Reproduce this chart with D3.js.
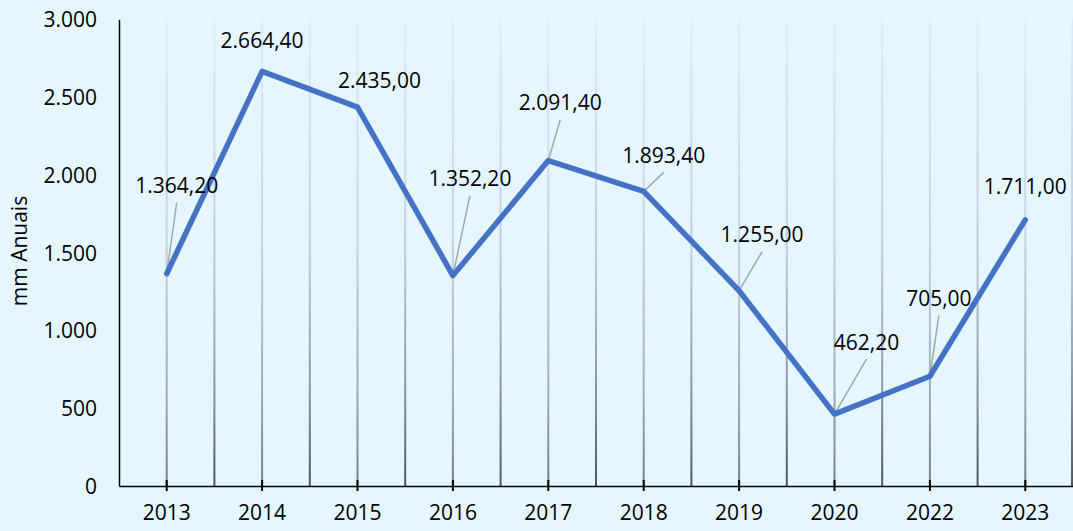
<!DOCTYPE html>
<html>
<head>
<meta charset="utf-8">
<script src="https://cdn.jsdelivr.net/npm/d3@7"></script>
<style>
  html, body { margin: 0; padding: 0; background: #e6f6ff; }
  svg { display: block; }
  text { font-family: "Open Sans", "Liberation Sans", sans-serif; fill: #000; }
</style>
</head>
<body>
<svg id="chart" width="1073" height="531"></svg>
<script>
const years = ["2013","2014","2015","2016","2017","2018","2019","2020","2022","2023"];
const values = [1364.2, 2664.4, 2435.0, 1352.2, 2091.4, 1893.4, 1255.0, 462.2, 705.0, 1711.0];
const yTicks = [0, 500, 1000, 1500, 2000, 2500, 3000];
const yTitle = "mm Anuais";

// label placement offsets (pixels, relative to point) and whether a leader line is drawn
const labelOffsets = [[10,-88,1],[0,-31,0],[22,-27,0],[17,-97,1],[12,-58,1],[20,-36,1],[23,-56,1],[32,-72,1],[9,-78,1],[0,-33,0]];

const W = 1073, H = 531;
const m = {left: 119, right: 0, top: 19.2, bottom: 45};
const svg = d3.select("#chart");
svg.append("rect").attr("width", W).attr("height", H).attr("fill", "#e6f6ff");

const x = d3.scaleBand().domain(years).range([m.left, W - m.right]).paddingInner(0).paddingOuter(0);
const y = d3.scaleLinear().domain([0, 3000]).range([H - m.bottom, m.top]);
const y0 = y(0);

const defs = svg.append("defs");
function grad(id, stops) {
  const g = defs.append("linearGradient").attr("id", id)
    .attr("gradientUnits", "userSpaceOnUse")
    .attr("x1", 0).attr("x2", 0).attr("y1", y(3000)).attr("y2", y0);
  stops.forEach(s => g.append("stop").attr("offset", s[0]).attr("stop-color", s[1]));
}
grad("gCenter", [[0, "#e0edf9"], [0.5, "#c3d1e2"], [0.8, "#a0abb8"], [1, "#767e87"]]);
grad("gBound", [[0, "#e0edf9"], [0.5, "#bfcce0"], [0.8, "#8a95a2"], [1, "#50555c"]]);

// vertical gradient gridlines at category centers and boundaries
const step = x.step();
const grid = svg.append("g");
years.forEach((yr, i) => {
  const cx = x(yr) + step / 2;
  grid.append("line").attr("x1", cx).attr("x2", cx).attr("y1", y(3000)).attr("y2", y0)
    .attr("stroke", "url(#gCenter)").attr("stroke-width", 2);
  const bx = x(yr) + step - (i === years.length - 1 ? 1 : 0);
  grid.append("line").attr("x1", bx).attr("x2", bx)
    .attr("y1", y(3000)).attr("y2", y0)
    .attr("stroke", "url(#gBound)").attr("stroke-width", 2);
});

// y axis
const yAxis = d3.axisLeft(y).tickValues(yTicks).tickSize(0).tickPadding(22)
  .tickFormat(d => d3.format(",")(d).replace(/,/g, "."));
const gy = svg.append("g").attr("transform", `translate(${m.left},0)`).call(yAxis);
gy.select(".domain").attr("stroke", "#000").attr("stroke-width", 1.5);
gy.selectAll("text").style("font-size", "21px").attr("dy", "0.36em").style("font-family", '"Open Sans", sans-serif');

// x axis
const xAxis = d3.axisBottom(x).tickSizeInner(5).tickSizeOuter(0).tickPadding(14);
const gx = svg.append("g").attr("transform", `translate(0,${y0})`).call(xAxis);
gx.select(".domain").attr("stroke", "#000").attr("stroke-width", 1.5);
gx.selectAll(".tick line").attr("y1", -6).attr("y2", 5).attr("stroke", "#000").attr("stroke-width", 2);
gx.selectAll("text").style("font-size", "21px").style("font-family", '"Open Sans", sans-serif');

// y title
svg.append("text").attr("transform", `translate(27,251) rotate(-90)`)
  .attr("text-anchor", "middle").style("font-size", "21px").text(yTitle);

const px = (d, i) => x(years[i]) + step / 2;

// leader lines
const leaders = svg.append("g");
values.forEach((v, i) => {
  const o = labelOffsets[i];
  if (!o[2]) return;
  const x1 = px(v, i), y1 = y(v);
  const ex = x1 + o[0], ey = y(v) + o[1] + 17;
  leaders.append("line").attr("x1", x1).attr("y1", y1).attr("x2", ex).attr("y2", ey)
    .attr("stroke", "#a6a6a6").attr("stroke-width", 1.5);
});

// data line
const line = d3.line().x((d, i) => px(d, i)).y(d => y(d));
svg.append("path").datum(values).attr("d", line)
  .attr("fill", "none").attr("stroke", "#4472c4").attr("stroke-width", 5.5)
  .attr("stroke-linejoin", "round").attr("stroke-linecap", "round");

// data labels
const fmt = v => d3.format(",.2f")(v).replace(/,/g, "#").replace(".", ",").replace(/#/g, ".");
svg.append("g").selectAll("text").data(values).join("text")
  .attr("x", (d, i) => px(d, i) + labelOffsets[i][0])
  .attr("y", (d, i) => y(d) + labelOffsets[i][1])
  .attr("dy", "0.36em").attr("text-anchor", "middle")
  .style("font-size", "21px").text(fmt);
</script>
</body>
</html>
